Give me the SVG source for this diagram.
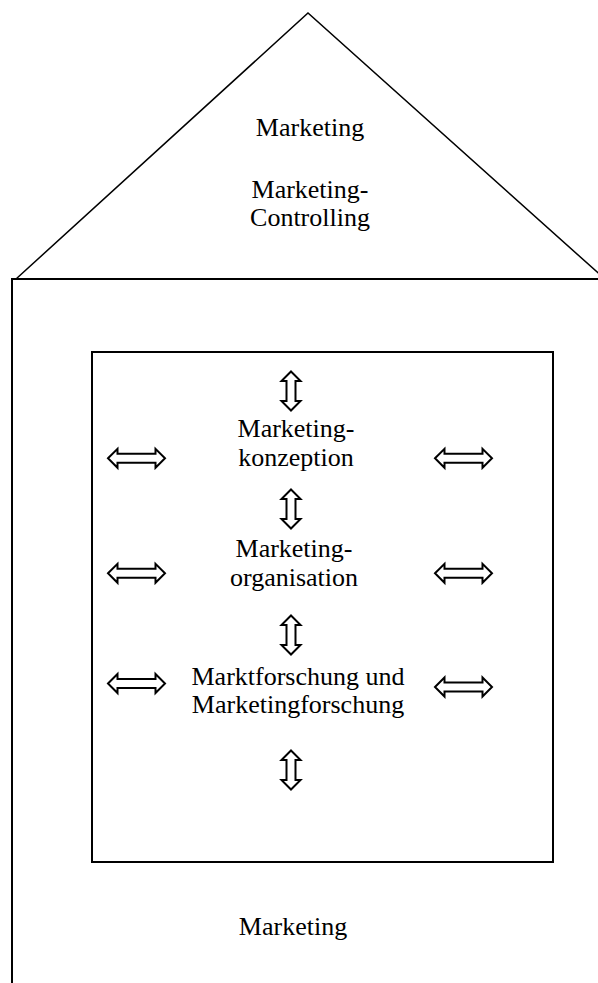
<svg xmlns="http://www.w3.org/2000/svg" xmlns:xlink="http://www.w3.org/1999/xlink" width="598" height="983" viewBox="0 0 598 983">
<style>
.t{font-family:"Liberation Serif","Times New Roman",serif;font-size:26px;fill:#000;text-anchor:middle}
.ln{fill:none;stroke:#000;stroke-width:2}
.rf{fill:none;stroke:#000;stroke-width:1.5}
.ar{fill:#fff;stroke:#000;stroke-width:2;stroke-linejoin:miter}
</style>
<defs>
<path id="h" class="ar" d="M-28.5,0 L-19,-9.5 L-19,-4.5 L19,-4.5 L19,-9.5 L28.5,0 L19,9.5 L19,4.5 L-19,4.5 L-19,9.5 Z"/>
<path id="v" class="ar" d="M0,-19.5 L9.5,-10 L4.5,-10 L4.5,10 L9.5,10 L0,19.5 L-9.5,10 L-4.5,10 L-4.5,-10 L-9.5,-10 Z"/>
</defs>
<g id="roof">
<polyline class="rf" points="16,279 308,13 606,280"/>
<line class="ln" x1="12" y1="279" x2="598" y2="279"/>
<text class="t" x="310" y="136">Marketing</text>
<text class="t" x="310" y="198">Marketing-</text>
<text class="t" x="310" y="226">Controlling</text>
</g>
<g id="house">
<line class="ln" x1="12" y1="278" x2="12" y2="983"/>
<text class="t" x="293" y="935">Marketing</text>
</g>
<g id="inner">
<rect class="ln" x="92" y="352" width="461" height="510"/>
</g>
<g id="konzeption">
<text class="t" x="296" y="437">Marketing-</text>
<text class="t" x="296" y="466">konzeption</text>
</g>
<g id="organisation">
<text class="t" x="294" y="557">Marketing-</text>
<text class="t" x="294" y="586">organisation</text>
</g>
<g id="forschung">
<text class="t" x="298" y="685">Marktforschung und</text>
<text class="t" x="298" y="713">Marketingforschung</text>
</g>
<g id="connectors">
<use xlink:href="#v" x="291" y="391"/>
<use xlink:href="#v" x="291" y="509"/>
<use xlink:href="#v" x="291" y="635"/>
<use xlink:href="#v" x="291" y="770"/>
<use xlink:href="#h" x="136.5" y="458.3"/>
<use xlink:href="#h" x="463.5" y="458.3"/>
<use xlink:href="#h" x="136.5" y="573.3"/>
<use xlink:href="#h" x="463.5" y="573.3"/>
<use xlink:href="#h" x="136.5" y="683.5"/>
<use xlink:href="#h" x="463.5" y="687"/>
</g>
</svg>
